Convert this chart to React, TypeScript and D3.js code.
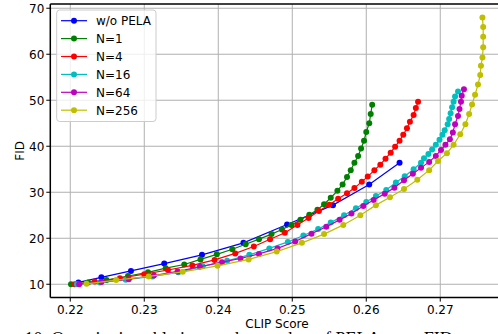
import React from "react";
import * as d3 from "d3";

const seriesNames = ["w/o PELA", "N=1", "N=4", "N=16", "N=64", "N=256"];
const seriesColors = ["#0000ff", "#008000", "#ff0000", "#00bfbf", "#bf00bf", "#bfbf00"];

const woPela: [number, number][] = [
  [0.2211, 10.4], [0.2242, 11.5], [0.2282, 12.9], [0.2327, 14.5], [0.2378, 16.4],
  [0.2434, 19.0], [0.2493, 23.0], [0.2555, 27.2], [0.2604, 31.7], [0.2645, 36.4],
];
const n1: [number, number][] = [
  [0.2201, 10.0], [0.2224, 10.4], [0.2249, 10.9], [0.2278, 11.8], [0.2305, 12.6],
  [0.2329, 13.5], [0.2354, 14.3], [0.2376, 15.4], [0.2398, 16.5], [0.2419, 17.6],
  [0.2437, 18.7], [0.2455, 19.8], [0.2472, 20.9], [0.2486, 21.9], [0.2499, 22.9],
  [0.2511, 24.0], [0.2523, 25.1], [0.2534, 26.2], [0.2543, 27.4], [0.2552, 28.8],
  [0.2561, 30.3], [0.2568, 31.7], [0.2574, 33.3], [0.2579, 34.8], [0.2584, 36.4],
  [0.2589, 37.9], [0.2593, 39.5], [0.2597, 41.2], [0.2600, 43.1], [0.2604, 45.0],
  [0.2606, 47.0], [0.2608, 49.0],
];
const n4: [number, number][] = [
  [0.2206, 10.0], [0.2233, 10.6], [0.2267, 11.3], [0.2300, 12.2], [0.2332, 13.1],
  [0.2365, 14.1], [0.2395, 15.3], [0.2423, 16.7], [0.2448, 18.2], [0.2470, 19.8],
  [0.2490, 21.2], [0.2507, 22.9], [0.2522, 24.4], [0.2536, 25.9], [0.2550, 27.3],
  [0.2562, 28.6], [0.2574, 29.8], [0.2584, 30.9], [0.2594, 32.3], [0.2602, 33.4],
  [0.2611, 34.8], [0.2619, 36.0], [0.2626, 37.3], [0.2633, 38.6], [0.2639, 39.9],
  [0.2645, 41.2], [0.2650, 42.5], [0.2655, 43.9], [0.2659, 45.3], [0.2664, 46.8],
  [0.2667, 48.3], [0.2670, 49.7],
];
const n16: [number, number][] = [
  [0.2209, 10.0], [0.2240, 10.4], [0.2275, 11.0], [0.2311, 11.7], [0.2346, 12.6],
  [0.2379, 13.9], [0.2412, 15.1], [0.2442, 16.4], [0.2469, 17.8], [0.2494, 19.2],
  [0.2515, 20.6], [0.2535, 22.0], [0.2552, 23.4], [0.2570, 25.0], [0.2586, 26.5],
  [0.2600, 27.9], [0.2613, 29.2], [0.2627, 30.5], [0.2640, 32.1], [0.2652, 33.5],
  [0.2664, 35.0], [0.2674, 36.4], [0.2678, 37.4], [0.2684, 38.3], [0.2689, 39.3],
  [0.2694, 40.3], [0.2699, 41.4], [0.2703, 42.5], [0.2706, 43.5], [0.2710, 44.8],
  [0.2712, 45.9], [0.2714, 47.2], [0.2716, 48.5], [0.2718, 49.7], [0.2720, 50.8],
  [0.2724, 51.9],
];
const n64: [number, number][] = [
  [0.2212, 10.0], [0.2242, 10.5], [0.2279, 11.1], [0.2313, 11.9], [0.2345, 12.8],
  [0.2375, 13.8], [0.2405, 14.8], [0.2430, 15.6], [0.2455, 16.6], [0.2480, 17.8],
  [0.2504, 19.3], [0.2526, 21.0], [0.2546, 22.5], [0.2564, 24.0], [0.2580, 25.4],
  [0.2596, 27.0], [0.2610, 28.3], [0.2625, 29.7], [0.2638, 31.0], [0.2651, 32.6],
  [0.2663, 34.0], [0.2674, 35.3], [0.2685, 36.6], [0.2694, 37.9], [0.2701, 39.2],
  [0.2707, 40.3], [0.2713, 41.5], [0.2717, 43.0], [0.2720, 44.8], [0.2724, 46.6],
  [0.2726, 48.1], [0.2728, 49.7], [0.2729, 51.0], [0.2732, 52.4],
];
const n256: [number, number][] = [
  [0.2222, 10.1], [0.2262, 10.9], [0.2306, 11.7], [0.2352, 12.7], [0.2399, 14.0],
  [0.2441, 15.4], [0.2479, 17.1], [0.2513, 19.0], [0.2543, 20.9], [0.2569, 22.9],
  [0.2592, 25.0], [0.2613, 27.2], [0.2632, 28.9], [0.2651, 30.7], [0.2669, 32.7],
  [0.2685, 34.8], [0.2697, 36.8], [0.2709, 38.5], [0.2718, 40.3], [0.2727, 42.6],
  [0.2734, 44.8], [0.2739, 47.0], [0.2743, 49.1], [0.2747, 51.2], [0.2751, 53.4],
  [0.2754, 55.5], [0.2755, 57.5], [0.2757, 59.3], [0.2758, 61.5], [0.2758, 63.8],
  [0.2758, 65.9], [0.2757, 68.0],
];
const allSeries = [woPela, n1, n4, n16, n64, n256];

const xTicks = [0.22, 0.23, 0.24, 0.25, 0.26, 0.27];
const yTicks = [10, 20, 30, 40, 50, 60, 70];
const xLabel = "CLIP Score";
const yLabel = "FID";
const caption = "Figure 10. Quantitative ablation on the number of PELA w.r.t. FID";

export default function App() {
  const W = 498, H = 334;
  const left = 50.3, right = 503.9, top = 4.1, bottom = 297.6;
  const x = d3.scaleLinear().domain([0.2173, 0.2786]).range([left, right]);
  const y = d3.scaleLinear().domain([7.1, 70.9]).range([bottom, top]);
  const line = d3.line<[number, number]>().x(d => x(d[0])).y(d => y(d[1]));
  const font = "'DejaVu Sans', sans-serif";
  const fs = 12;

  const legX = 56.7, legY = 10, legW = 99.3, legH = 111.5;
  const rowY0 = 20.7, rowStep = 17.9;

  return (
    <svg width={W} height={H} style={{ position: "absolute", left: 0, top: 0, background: "#fff" }}
      xmlns="http://www.w3.org/2000/svg">
      <rect x={0} y={0} width={W} height={H} fill="#fff" />
      <defs>
        <clipPath id="plotclip">
          <rect x={left} y={top} width={right - left} height={bottom - top} />
        </clipPath>
      </defs>
      {xTicks.map(t => (
        <line key={"gx" + t} x1={x(t)} x2={x(t)} y1={top} y2={bottom} stroke="#b0b0b0" strokeWidth={1} />
      ))}
      {yTicks.map(t => (
        <line key={"gy" + t} x1={left} x2={right} y1={y(t)} y2={y(t)} stroke="#b0b0b0" strokeWidth={1} />
      ))}
      <g clipPath="url(#plotclip)">
        {allSeries.map((s, i) => (
          <g key={"s" + i}>
            <path d={line(s) || ""} fill="none" stroke={seriesColors[i]} strokeWidth={1.2} />
            {s.map((p, j) => (
              <circle key={j} cx={x(p[0])} cy={y(p[1])} r={3} fill={seriesColors[i]} />
            ))}
          </g>
        ))}
      </g>
      <line x1={left} x2={left} y1={top} y2={bottom} stroke="#000" strokeWidth={1.5} />
      <line x1={left} x2={right} y1={bottom} y2={bottom} stroke="#000" strokeWidth={1.5} />
      <line x1={left} x2={right} y1={top} y2={top} stroke="#000" strokeWidth={1.5} />
      <line x1={right} x2={right} y1={top} y2={bottom} stroke="#000" strokeWidth={1.5} />
      {xTicks.map(t => (
        <g key={"tx" + t}>
          <line x1={x(t)} x2={x(t)} y1={bottom} y2={bottom + 4} stroke="#000" strokeWidth={1} />
          <text x={x(t)} y={bottom + 16} textAnchor="middle" fontFamily={font} fontSize={fs} fill="#000">
            {t.toFixed(2)}
          </text>
        </g>
      ))}
      {yTicks.map(t => (
        <g key={"ty" + t}>
          <line x1={left - 4} x2={left} y1={y(t)} y2={y(t)} stroke="#000" strokeWidth={1} />
          <text x={left - 6} y={y(t) + 4.3} textAnchor="end" fontFamily={font} fontSize={fs} fill="#000">
            {t}
          </text>
        </g>
      ))}
      <text x={277} y={327.5} textAnchor="middle" fontFamily={font} fontSize={fs} fill="#000">
        {xLabel}
      </text>
      <text transform={`translate(23.5, ${(top + bottom) / 2}) rotate(-90)`} textAnchor="middle"
        fontFamily={font} fontSize={fs} fill="#000">
        {yLabel}
      </text>
      <rect x={legX} y={legY} width={legW} height={legH} rx={3} fill="#fff" fillOpacity={0.8}
        stroke="#cccccc" strokeWidth={1} />
      {seriesNames.map((name, i) => {
        const ry = rowY0 + i * rowStep;
        return (
          <g key={"l" + i}>
            <line x1={61} x2={87} y1={ry} y2={ry} stroke={seriesColors[i]} strokeWidth={1.2} />
            <circle cx={74} cy={ry} r={3} fill={seriesColors[i]} />
            <text x={96} y={ry + 4.3} fontFamily={font} fontSize={fs} fill="#000">{name}</text>
          </g>
        );
      })}
      <text x={-27} y={345} fontFamily="'Liberation Serif', serif" fontSize={18} fill="#000">
        {caption}
      </text>
    </svg>
  );
}
